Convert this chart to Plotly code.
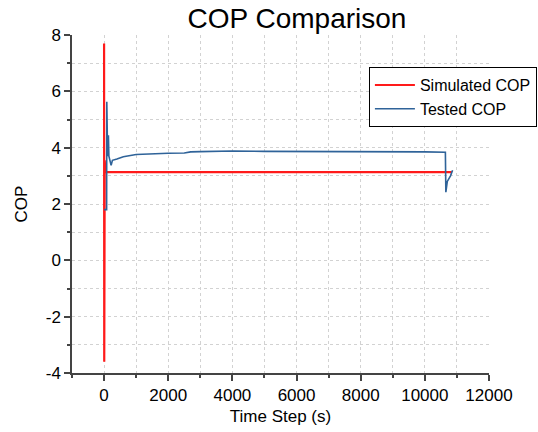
import plotly.graph_objects as go

# Simulated COP (red)
sim_t = [0, 5, 20, 40, 1000, 3000, 5000, 7000, 9000, 10000, 10840]
sim_cop = [7.7, -3.6, 3.55, 3.13, 3.13, 3.13, 3.13, 3.13, 3.13, 3.13, 3.13]

# Tested COP (blue)
test_t = [0, 80, 85, 100, 110, 135, 150, 220, 260, 400, 600, 1000, 1500, 2000,
          2500, 2700, 3000, 4000, 5000, 6000, 7000, 8000, 9000, 10000, 10640,
          10655, 10700, 10800, 10865]
test_cop = [1.8, 1.8, 5.63, 3.75, 3.7, 4.44, 3.7, 3.37, 3.55, 3.6, 3.68, 3.76,
            3.79, 3.8, 3.81, 3.85, 3.86, 3.88, 3.87, 3.87, 3.86, 3.86, 3.85,
            3.85, 3.84, 2.42, 2.8, 3.0, 3.2]

x_ticks = [0, 2000, 4000, 6000, 8000, 10000, 12000]
x_labels = ["0", "2000", "4000", "6000", "8000", "10000", "12000"]
y_ticks = [-4, -2, 0, 2, 4, 6, 8]
y_labels = ["-4", "-2", "0", "2", "4", "6", "8"]

FONT = "Arial, Liberation Sans, sans-serif"

fig = go.Figure()
fig.add_trace(go.Scatter(x=sim_t, y=sim_cop, mode="lines", name="Simulated COP",
                         line=dict(color="#ff1a1a", width=2.2)))
fig.add_trace(go.Scatter(x=test_t, y=test_cop, mode="lines", name="Tested COP",
                         line=dict(color="#2f6399", width=1.6)))

axis_common = dict(
    showline=True, linecolor="#444444", linewidth=1.5,
    ticks="outside", ticklen=6, tickwidth=1.5, tickcolor="#444444",
    showgrid=False, zeroline=False, mirror=False, automargin=False,
    tickfont=dict(family=FONT, size=17, color="#000000"),
)

fig.update_xaxes(
    range=[-1000, 12000], tickvals=x_ticks, ticktext=x_labels,
    title=dict(text="Time Step (s)", font=dict(family=FONT, size=17, color="#000000"), standoff=6),
    minor=dict(dtick=1000, tick0=-1000, ticks="outside", ticklen=3, tickcolor="#444444",
               showgrid=True, gridcolor="#d2d2d2", griddash="dot", gridwidth=1),
    **axis_common,
)
fig.update_yaxes(
    range=[-4, 8], tickvals=y_ticks, ticktext=y_labels,
    title=dict(text="COP", font=dict(family=FONT, size=17, color="#000000"), standoff=14),
    minor=dict(dtick=1, tick0=-3, ticks="outside", ticklen=3, tickcolor="#444444",
               showgrid=True, gridcolor="#d2d2d2", griddash="dot", gridwidth=1),
    **axis_common,
)

fig.update_layout(
    width=538, height=432, autosize=False,
    margin=dict(l=72, r=49, t=35, b=59, autoexpand=False),
    paper_bgcolor="white", plot_bgcolor="white",
    title=dict(text="COP Comparison", x=0.552, xanchor="center", y=1 - 18 / 432,
               yanchor="middle", font=dict(family=FONT, size=28, color="#000000")),
    legend=dict(x=0.712, y=0.905, xanchor="left", yanchor="top",
                bordercolor="#000000", borderwidth=1, bgcolor="white",
                font=dict(family=FONT, size=16, color="#000000"),
                tracegroupgap=0, itemwidth=40),
    showlegend=True,
)

post = """
document.body.style.margin = '0';
document.body.style.padding = '0';
document.body.style.overflow = 'hidden';
document.documentElement.style.overflow = 'hidden';
var gd = document.getElementById('{plot_id}');
Plotly.relayout(gd, {width: 538, height: 432});
"""

fig.write_html("out.html", config={"responsive": False, "displayModeBar": False},
               post_script=post)
